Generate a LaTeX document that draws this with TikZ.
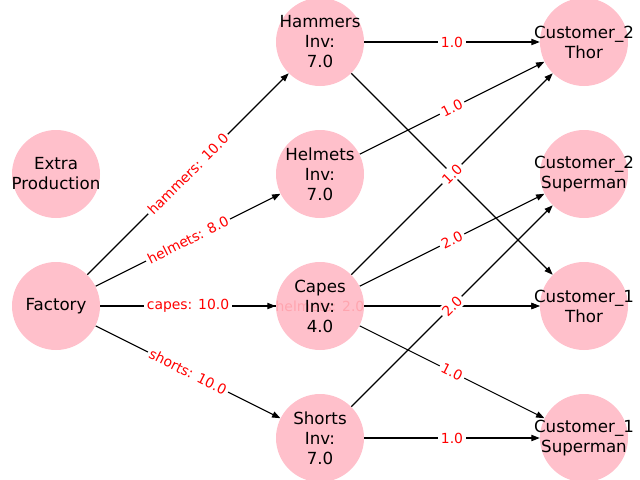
\documentclass[tikz,border=0pt]{standalone}
\usepackage{fontspec}
\setmainfont{DejaVu Sans}
\usetikzlibrary{arrows.meta,backgrounds}
\definecolor{nodepink}{HTML}{FFC0CB}
\definecolor{faintred}{RGB}{255,165,175}
\begin{document}
\begin{tikzpicture}[x=0.72pt,y=-0.72pt,
  nd/.style={circle, fill=nodepink, minimum size=63.36pt, inner sep=0pt},
  nt/.style={inner sep=0pt, align=center, font=\fontsize{12}{14.4}\selectfont, text=black},
  ed/.style={-{Triangle[length=6pt,width=4.5pt]}, black, line width=0.8pt},
  lb/.style={midway, sloped, fill=white, text=red, inner sep=1.8pt,
    font=\fontsize{10}{12}\selectfont},
  fl/.style={midway, text=faintred, inner sep=1.8pt, font=\fontsize{10}{12}\selectfont}]
\useasboundingbox (0,0) rectangle (640,480);
% nodes
\node[nd, label={[nt]center:{Extra\\Production}}] (extra) at (56,174) {};
\node[nd, label={[nt]center:{Factory}}] (factory) at (56,306) {};
\node[nd, label={[nt]center:{Hammers\\Inv:\\7.0}}] (hammers) at (320,42) {};
\node[nd, label={[nt]center:{Helmets\\Inv:\\7.0}}] (helmets) at (320,174) {};
\node[nd] (capes) at (320,306) {};
\node[nd, label={[nt]center:{Shorts\\Inv:\\7.0}}] (shorts) at (320,438) {};
\node[nd, label={[nt]center:{Customer\_2\\Thor}}] (c2thor) at (584,42) {};
\node[nd, label={[nt]center:{Customer\_2\\Superman}}] (c2sup) at (584,174) {};
\node[nd, label={[nt]center:{Customer\_1\\Thor}}] (c1thor) at (584,306) {};
\node[nd, label={[nt]center:{Customer\_1\\Superman}}] (c1sup) at (584,438) {};
% edges
\begin{pgfonlayer}{background}
\draw[ed] (factory) -- (hammers);
\draw[ed] (factory) -- (helmets);
\draw[ed] (factory) -- (capes);
\draw[ed] (factory) -- (shorts);
\draw[ed] (factory) -- (c1thor);
\draw[ed] (hammers) -- (c2thor);
\draw[ed] (hammers) -- (c1thor);
\draw[ed] (helmets) -- (c2thor);
\draw[ed] (capes) -- (c2thor);
\draw[ed] (capes) -- (c2sup);
\draw[ed] (capes) -- (c1thor);
\draw[ed] (capes) -- (c1sup);
\draw[ed] (shorts) -- (c2sup);
\draw[ed] (shorts) -- (c1sup);
\end{pgfonlayer}
% edge labels
\path (factory) -- (hammers) node[lb] {hammers: 10.0};
\path (factory) -- (helmets) node[lb] {helmets: 8.0};
\path (factory) -- (capes) node[lb] {capes: 10.0};
\path (factory) -- (shorts) node[lb] {shorts: 10.0};
\path (hammers) -- (c2thor) node[lb] {1.0};
\path (helmets) -- (c2thor) node[lb] {1.0};
\path (capes) -- (c2thor) node[lb] {1.0};
\path (capes) -- (c2sup) node[lb] {2.0};
\path (capes) -- (c1sup) node[lb] {1.0};
\path (shorts) -- (c2sup) node[lb] {2.0};
\path (shorts) -- (c1sup) node[lb] {1.0};
\path (factory) -- (c1thor) node[fl] {helmets: 2.0};
\node[nt] (capestext) at (capes) {Capes\\Inv:\\4.0};
\end{tikzpicture}
\end{document}
